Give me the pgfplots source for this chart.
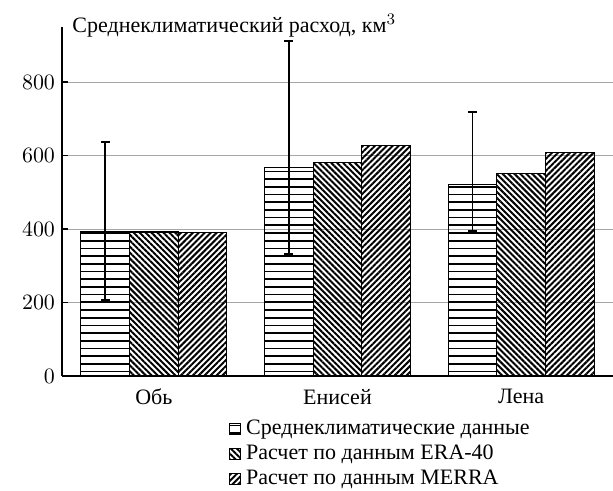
\documentclass[border=0pt]{standalone}
\usepackage{fontspec}
\setmainfont{Liberation Serif}
\usepackage{pgfplots}
\pgfplotsset{compat=1.18}
\usetikzlibrary{patterns,patterns.meta}
\pgfdeclarepatternformonly{hlines}{\pgfpoint{-1pt}{-1pt}}{\pgfpoint{11pt}{4.85pt}}{\pgfpoint{10pt}{3.85pt}}{%
  \pgfpathrectangle{\pgfpoint{-1pt}{1.5pt}}{\pgfpoint{12pt}{0.85pt}}\pgfusepath{fill}}
\tikzset{
  phoriz/.style={pattern=hlines},
  pnw/.style={pattern={Lines[angle=-45,distance=2.1pt,line width=1pt]}},
  pne/.style={pattern={Lines[angle=45,distance=2.1pt,line width=1pt]}},
}
\begin{document}
\begin{tikzpicture}
\begin{axis}[
  scale only axis,
  width=275.5pt, height=174.5pt,
  font=\fontsize{11}{13}\selectfont,
  xmin=-0.5, xmax=2.5, ymin=0, ymax=950,
  axis x line=bottom, axis y line=left,
  axis line style={-, line width=0.8pt},
  xtick={0,1,2}, xticklabels={Обь,Енисей,Лена},
  x tick style={draw=none},
  ytick={0,200,400,600,800},
  tick align=inside, major tick length=3pt,
  y tick style={line width=0.8pt, black},
  ymajorgrids, grid style={gray!70, line width=0.5pt},
  ybar=0pt, bar width=0.265,
  legend style={draw=none, fill=none, at={(axis description cs:0.291,-0.102)}, anchor=north west,
    cells={anchor=west}, row sep=-0.3pt, font=\fontsize{11}{13}\selectfont,
    nodes={inner xsep=2.5pt}},
  legend image code/.code={\draw[#1,draw=black,line width=0.6pt] (0pt,-2.8pt) rectangle (5.6pt,2.8pt);},
  clip=false,
]
\addplot[draw=black, line width=0.6pt, phoriz,
  error bars/.cd, y dir=both, y explicit,
  error bar style={line width=0.9pt, black},
  error mark options={rotate=90, mark size=2.2pt, line width=0.9pt, black}]
  coordinates {(0,392) += (0,245) -= (0,185)
               (1,567) += (0,344) -= (0,235)
               (2,521) += (0,197) -= (0,126)};
\addplot[draw=black, line width=0.6pt, pnw] coordinates {(0,392) (1,581) (2,551)};
\addplot[draw=black, line width=0.6pt, pne] coordinates {(0,390) (1,628) (2,609)};
\legend{Среднеклиматические данные, Расчет по данным ERA-40, Расчет по данным MERRA}
\node[anchor=base west, inner sep=0pt, font=\fontsize{11}{13}\selectfont] at ([xshift=5pt,yshift=-2.5pt]rel axis cs:0,1) {Среднеклиматический расход, км$^3$};
\coordinate (bl) at (rel axis cs:0,0);
\coordinate (tr) at (rel axis cs:1,1);
\end{axis}
\pgfresetboundingbox
\useasboundingbox ([xshift=-31pt,yshift=-57.5pt]bl) rectangle ([yshift=13.5pt]tr);
\end{tikzpicture}
\end{document}
